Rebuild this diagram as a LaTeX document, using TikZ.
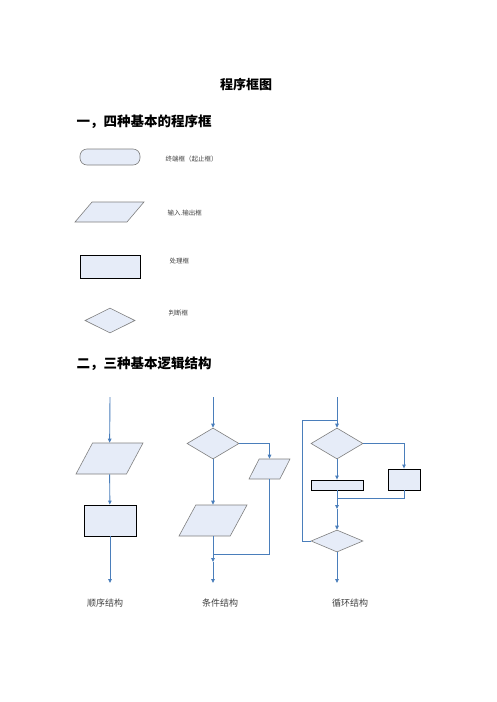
\documentclass[tikz,border=0pt]{standalone}
\usepackage{fontspec}
\newfontfamily\cjk{Noto Sans CJK SC}
\usetikzlibrary{shapes.geometric,arrows.meta}

\definecolor{boxfill}{HTML}{E6ECF8}
\definecolor{flowline}{HTML}{4A7EBB}
\definecolor{edgegray}{HTML}{7F7F7F}

\begin{document}
\begin{tikzpicture}[x=1pt,y=-1pt,
		term/.style={rectangle, rounded corners=7pt, draw=edgegray, fill=boxfill, line width=0.6pt, inner sep=0pt, minimum width=60pt, minimum height=16pt},
		io/.style={trapezium, trapezium left angle=64, trapezium right angle=116, trapezium stretches=true, draw=edgegray, fill=boxfill, line width=0.6pt, inner sep=1pt},
		proc/.style={rectangle, draw=black, fill=boxfill, line width=0.8pt, inner sep=0pt},
		test/.style={diamond, draw=edgegray, fill=boxfill, line width=0.6pt, inner sep=0pt, minimum width=52pt, minimum height=31pt},
		flow/.style={draw=flowline, line width=0.9pt},
		arr/.style={flow, -{Triangle[length=4pt,width=3.5pt]}},
		lbl/.style={anchor=west, text=black!75, font=\cjk\fontsize{6.5}{7}\selectfont},
		captext/.style={text=black!75, font=\cjk\fontsize{9}{10}\selectfont},
		head/.style={anchor=west, font=\cjk\bfseries\fontsize{13.5}{15}\selectfont}]
	\useasboundingbox (0,0) rectangle (496,702);

	% titles
	\node[font=\cjk\bfseries\fontsize{13}{15}\selectfont] (title) at (246,85) {程序框图};
	\node[head] (head1) at (73,122) {一，四种基本的程序框};
	\node[head] (head2) at (73,364) {二，三种基本逻辑结构};

	% the four boxes
	\node[term] (term) at (110,157) {};
	\node[lbl] (termlbl) at (162,159) {终端框（起止框）};
	\node[io, minimum width=69pt, minimum height=20pt] (io) at (109.5,212) {};
	\node[lbl] (iolbl) at (164,213) {输入.输出框};
	\node[proc, minimum width=60pt, minimum height=23pt] (proc) at (110,266.5) {};
	\node[lbl] (proclbl) at (166,261) {处理框};
	\node[test, minimum width=50pt, minimum height=25pt] (test) at (110,320.5) {};
	\node[lbl] (testlbl) at (165,313) {判断框};

	% sequence
	\coordinate (s0) at (110,397);
	\node[io, minimum width=67pt, minimum height=31pt] (s1) at (109.5,458.5) {};
	\node[proc, minimum width=52pt, minimum height=31pt] (s2) at (110,520.5) {};
	\coordinate (s3) at (110,583);
	\draw[arr] (s0) -- (s1);
	\draw[arr] (s1) -- (s2);
	\draw[arr] (s2) -- (s3);
	\node[captext] (seqcap) at (105,603) {顺序结构};

	% condition
	\coordinate (c0) at (213,397);
	\node[test] (c1) at (213,443.5) {};
	\node[io, minimum width=41pt, minimum height=20pt] (c2) at (269.5,469) {};
	\node[io, minimum width=68pt, minimum height=31pt] (c3) at (213,520.5) {};
	\coordinate (c4) at (213,554);
	\coordinate (c5) at (213,562);
	\coordinate (c6) at (213,583);
	\draw[arr] (c0) -- (c1);
	\draw[arr] (c1.east) -| (c2.north);
	\draw[arr] (c1) -- (c3);
	\draw[flow] (c2.south) |- (c4);
	\draw[arr] (c3) -- (c5);
	\draw[arr] (c5) -- (c6);
	\node[captext] (condcap) at (220,603) {条件结构};

	% loop
	\coordinate (l0) at (337,397);
	\coordinate (l1) at (337,420);
	\node[test] (l2) at (337,443.5) {};
	\node[proc, minimum width=52pt, minimum height=10pt] (l3) at (337,485) {};
	\node[proc, minimum width=32pt, minimum height=21pt] (l4) at (404,479.5) {};
	\coordinate (l5) at (337,498);
	\coordinate (l6) at (337,509);
	\node[test, minimum height=22pt] (l7) at (337,541) {};
	\coordinate (l8) at (337,583);
	\draw[flow] (l0) -- (l1);
	\draw[arr] (l1) -- (l2);
	\draw[arr] (l2.east) -| (l4.north);
	\draw[arr] (l2) -- (l3);
	\draw[flow] (l4.south) |- (l5);
	\draw[arr] (l3) -- (l6);
	\draw[arr] (l6) -- (l7);
	\draw[flow] (l7.west) -- ++(-8,0) |- (l1);
	\draw[arr] (l7) -- (l8);
	\node[captext] (loopcap) at (350,603) {循环结构};
\end{tikzpicture}
\end{document}
